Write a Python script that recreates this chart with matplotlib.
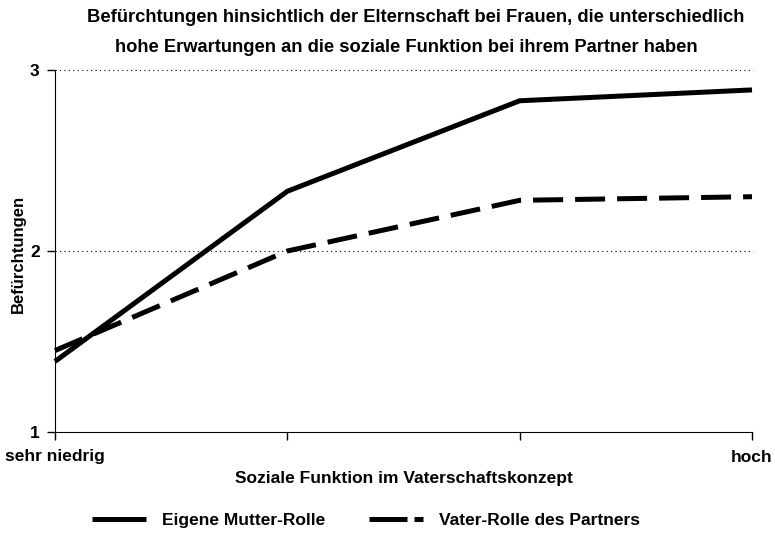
import matplotlib
matplotlib.use("Agg")
import matplotlib.pyplot as plt

categories = ["sehr niedrig", "", "", "hoch"]
mutter = [1.39, 2.33, 2.83, 2.89]
vater = [1.45, 2.00, 2.28, 2.30]
series_names = ["Eigene Mutter-Rolle", "Vater-Rolle des Partners"]
title_lines = ["Befürchtungen hinsichtlich der Elternschaft bei Frauen, die unterschiedlich",
               "hohe Erwartungen an die soziale Funktion bei ihrem Partner haben"]

plt.rcParams['font.family'] = ['Liberation Sans', 'DejaVu Sans']
plt.rcParams['font.weight'] = 'bold'

FS = 12.5
fig = plt.figure(figsize=(7.75, 5.37), dpi=100)
ax = fig.add_axes([55/775, 1-432/537, (752-55)/775, (432-70)/537])

x = list(range(len(categories)))
ax.plot(x, mutter, color='black', lw=3.6, solid_capstyle='butt', label=series_names[0], clip_on=False)
ax.plot(x, vater, color='black', lw=3.6, dashes=(6, 2.4), dash_capstyle='butt', label=series_names[1], clip_on=False)

ax.set_xlim(0, 3)
ax.set_ylim(1, 3)
ax.set_xticks(x)
ax.set_xticklabels([])
ax.set_yticks([1, 2, 3])
ax.set_yticklabels(["1", "2", "3"], fontsize=FS, fontweight='bold')
for yv in [2, 3]:
    ax.plot([0, 3.005], [yv, yv], color='black', lw=0.8, ls=(0, (1, 3)), zorder=0, clip_on=False)

ax.spines['top'].set_visible(False)
ax.spines['right'].set_visible(False)
ax.tick_params(axis='y', direction='out', length=6, width=1, pad=5)
ax.tick_params(axis='x', direction='out', length=6, width=1)

fig.text(55/775, 1-457/537, categories[0], ha='center', va='center', fontsize=FS, fontweight='bold')
fig.text(752/775, 1-457/537, categories[3], ha='center', va='center', fontsize=FS, fontweight='bold')
fig.text(404/775, 1-478/537, "Soziale Funktion im Vaterschaftskonzept", ha='center', va='center',
         fontsize=FS, fontweight='bold')
fig.text(18/775, 1-254/537, "Befürchtungen", rotation=90, ha='center', va='center',
         fontsize=12, fontweight='bold')

fig.text(416/775, 1-18/537, title_lines[0], ha='center', va='center', fontsize=13.2, fontweight='bold')
fig.text(406/775, 1-47/537, title_lines[1], ha='center', va='center', fontsize=13.2, fontweight='bold')

leg = fig.legend(loc='center', bbox_to_anchor=(366/775, 1-520/537), ncol=2, frameon=False,
                 fontsize=FS, handlelength=3.1, handletextpad=0.92, columnspacing=2.52,
                 borderpad=0, borderaxespad=0)
for t in leg.get_texts():
    t.set_fontweight('bold')
leg.get_lines()[1].set_dashes((7.6, 1.4))

fig.savefig("out.png", dpi=100)
